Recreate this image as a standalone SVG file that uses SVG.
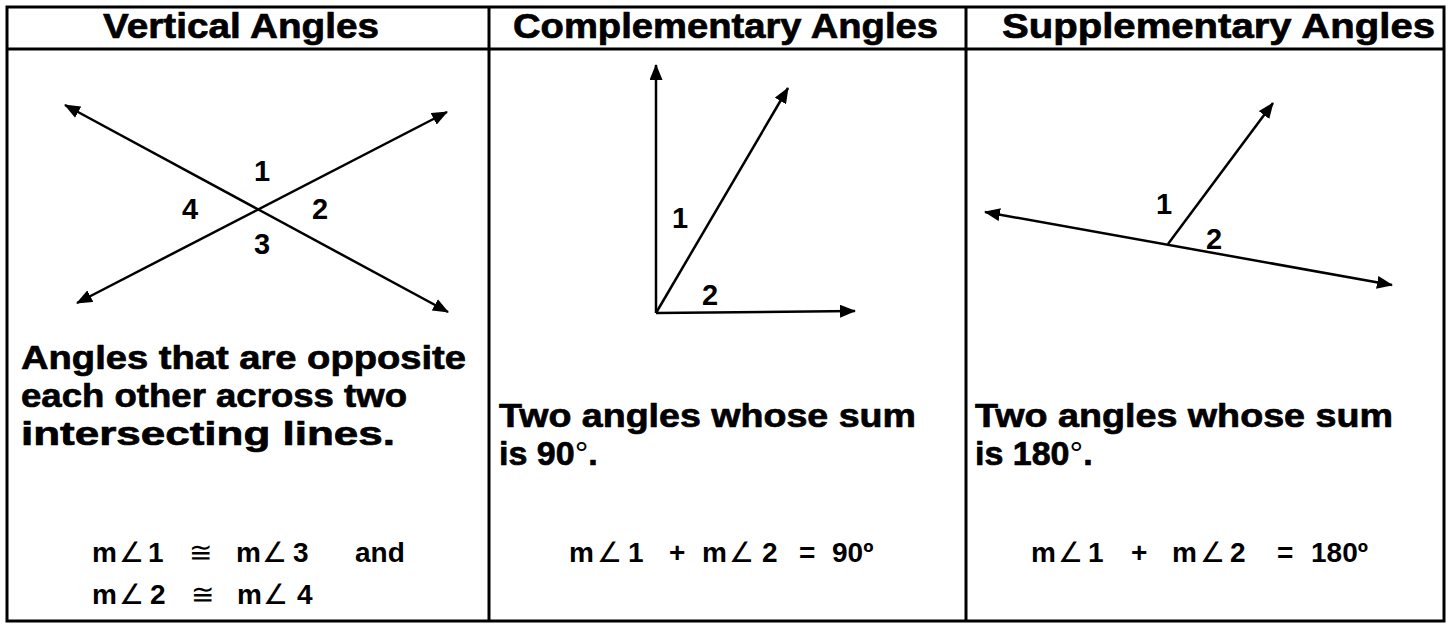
<svg xmlns="http://www.w3.org/2000/svg" width="1452" height="624" viewBox="0 0 1452 624">
<defs>
<marker id="arr" viewBox="0 0 16 13" markerWidth="16" markerHeight="13" refX="15" refY="6.5" markerUnits="userSpaceOnUse" orient="auto-start-reverse">
<path d="M0,0 L16,6.5 L0,13 z" fill="#000"/>
</marker>
<style>
text{font-family:"Liberation Sans",Arial,sans-serif;font-weight:bold;fill:#000}
.hd{font-size:35px;stroke:#000;stroke-width:0.7;stroke-linejoin:round}
.bd{font-size:34px;stroke:#000;stroke-width:0.7;stroke-linejoin:round}
.lb{font-size:29px;text-anchor:middle}
.fm{font-size:28px}
.sym{font-weight:normal;stroke-width:0}
.grid{stroke:#000;stroke-width:3;fill:none}
.ray{stroke:#000;stroke-width:2.5;fill:none}
</style>
</defs>
<rect width="1452" height="624" fill="#fff"/>
<g id="table">
<rect class="grid" x="7" y="7" width="1437" height="614"/>
<line class="grid" x1="7" y1="49" x2="1444" y2="49"/>
<line class="grid" x1="489" y1="7" x2="489" y2="621"/>
<line class="grid" x1="966" y1="7" x2="966" y2="621"/>
</g>
<g id="headers">
<text class="hd" x="103" y="38" textLength="276" lengthAdjust="spacingAndGlyphs">Vertical Angles</text>
<text class="hd" x="513" y="38" textLength="425" lengthAdjust="spacingAndGlyphs">Complementary Angles</text>
<text class="hd" x="1002" y="38" textLength="433" lengthAdjust="spacingAndGlyphs">Supplementary Angles</text>
</g>
<g id="connectors">
<line class="ray" x1="65" y1="105" x2="448" y2="312" marker-start="url(#arr)" marker-end="url(#arr)"/>
<line class="ray" x1="77" y1="303" x2="447" y2="112" marker-start="url(#arr)" marker-end="url(#arr)"/>
<line class="ray" x1="656" y1="313" x2="656" y2="65" marker-end="url(#arr)"/>
<line class="ray" x1="656" y1="313" x2="855" y2="311" marker-end="url(#arr)"/>
<line class="ray" x1="656" y1="313" x2="788" y2="88" marker-end="url(#arr)"/>
<line class="ray" x1="985" y1="212" x2="1392" y2="285" marker-start="url(#arr)" marker-end="url(#arr)"/>
<line class="ray" x1="1168" y1="244" x2="1273" y2="103" marker-end="url(#arr)"/>
</g>
<g id="vertical-angles">
<text class="lb" x="262" y="181">1</text>
<text class="lb" x="320" y="219">2</text>
<text class="lb" x="262" y="254">3</text>
<text class="lb" x="190" y="219">4</text>
<text class="bd" x="21" y="369" textLength="445" lengthAdjust="spacingAndGlyphs">Angles that are opposite</text>
<text class="bd" x="21" y="407" textLength="386" lengthAdjust="spacingAndGlyphs">each other across two</text>
<text class="bd" x="21" y="445" textLength="374" lengthAdjust="spacingAndGlyphs">intersecting lines.</text>
<text class="fm" y="562"><tspan x="92">m</tspan><tspan class="sym" x="119">∠</tspan><tspan x="148">1</tspan><tspan class="sym" x="189">≅</tspan><tspan x="236">m</tspan><tspan class="sym" x="262">∠</tspan><tspan x="293">3</tspan><tspan x="355">and</tspan></text>
<text class="fm" y="604"><tspan x="92">m</tspan><tspan class="sym" x="119">∠</tspan><tspan x="150">2</tspan><tspan class="sym" x="191">≅</tspan><tspan x="237">m</tspan><tspan class="sym" x="263">∠</tspan><tspan x="297">4</tspan></text>
</g>
<g id="complementary-angles">
<text class="lb" x="680" y="228">1</text>
<text class="lb" x="710" y="305">2</text>
<text class="bd" x="499" y="427" textLength="417" lengthAdjust="spacingAndGlyphs">Two angles whose sum</text>
<text class="bd" x="499" y="465">is 90<tspan class="sym">°</tspan>.</text>
<text class="fm" y="562"><tspan x="569">m</tspan><tspan class="sym" x="597">∠</tspan><tspan x="628">1</tspan><tspan x="669">+</tspan><tspan x="702">m</tspan><tspan class="sym" x="729">∠</tspan><tspan x="762">2</tspan><tspan x="799">=</tspan><tspan x="832">90º</tspan></text>
</g>
<g id="supplementary-angles">
<text class="lb" x="1164" y="214">1</text>
<text class="lb" x="1214" y="249">2</text>
<text class="bd" x="975" y="427" textLength="418" lengthAdjust="spacingAndGlyphs">Two angles whose sum</text>
<text class="bd" x="975" y="465">is 180<tspan class="sym">°</tspan>.</text>
<text class="fm" y="562"><tspan x="1031">m</tspan><tspan class="sym" x="1058">∠</tspan><tspan x="1088">1</tspan><tspan x="1131">+</tspan><tspan x="1172">m</tspan><tspan class="sym" x="1200">∠</tspan><tspan x="1230">2</tspan><tspan x="1277">=</tspan><tspan x="1311">180º</tspan></text>
</g>
</svg>
